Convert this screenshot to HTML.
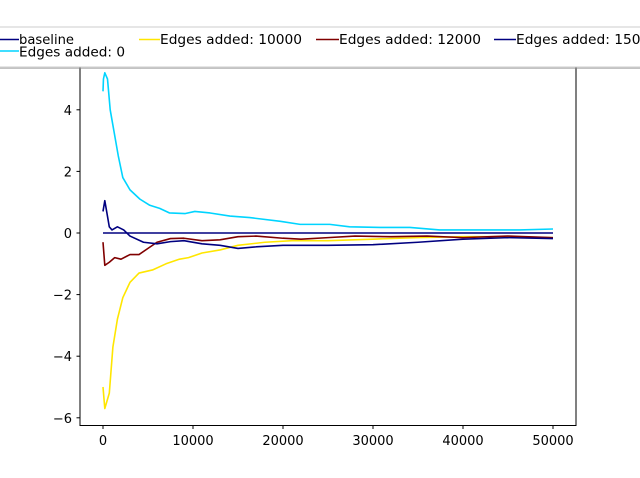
<!DOCTYPE html>
<html><head><meta charset="utf-8"><style>
body{margin:0;background:#fff;}
svg{display:block;font-family:"DejaVu Sans","Liberation Sans",sans-serif;}
</style></head><body>
<svg id="chart" width="640" height="478" viewBox="0 0 640 478" xmlns="http://www.w3.org/2000/svg">
<rect x="80" y="57.5" width="496" height="368" fill="#fff" stroke="#000" stroke-width="1"/>
<g id="ticks"></g>
<g id="lines"></g>
<g id="legend">
<rect x="-5" y="29" width="655" height="40" fill="#888" opacity="0.5"/>
<rect x="-5" y="27" width="655" height="40" fill="#fff" stroke="#ccc" stroke-width="1"/>
<line x1="0" y1="39.5" x2="19" y2="39.5" stroke="#000080" stroke-width="1.5"/>
<text x="19" y="44" font-size="13.5" textLength="55" lengthAdjust="spacingAndGlyphs">baseline</text>
<line x1="0" y1="51" x2="19" y2="51" stroke="#00d4ff" stroke-width="1.5"/>
<text x="19" y="56.5" font-size="13.5" textLength="106" lengthAdjust="spacingAndGlyphs">Edges added: 0</text>
<line x1="139" y1="39.5" x2="160" y2="39.5" stroke="#ffe600" stroke-width="1.5"/>
<text x="160" y="44" font-size="13.5" textLength="142" lengthAdjust="spacingAndGlyphs">Edges added: 10000</text>
<line x1="316" y1="39.5" x2="339" y2="39.5" stroke="#800000" stroke-width="1.5"/>
<text x="339" y="44" font-size="13.5" textLength="142" lengthAdjust="spacingAndGlyphs">Edges added: 12000</text>
<line x1="494" y1="39.5" x2="516" y2="39.5" stroke="#000080" stroke-width="1.5"/>
<text x="516" y="44" font-size="13.5" textLength="142" lengthAdjust="spacingAndGlyphs">Edges added: 15000</text>
</g>
</svg>
<script>
const xTicks=[0,10000,20000,30000,40000,50000];
const yTicks=[-6,-4,-2,0,2,4];
const baselineX=[0,50000];
const baselineY=[0,0];
const e0X=[0,50,200,500,800,1100,1700,2200,3000,4100,5200,6300,7400,9100,10200,11900,14100,16300,19700,21900,25200,27400,30800,34100,37400,41900,46300,50000];
const e0Y=[4.6,5.0,5.2,5.0,4.0,3.5,2.5,1.8,1.4,1.1,0.9,0.8,0.65,0.63,0.7,0.65,0.55,0.5,0.38,0.28,0.28,0.2,0.18,0.18,0.1,0.1,0.1,0.13];
const e10X=[0,200,700,1100,1600,2200,3000,4000,5500,7000,8500,9500,11000,13000,15000,18000,21000,25000,30000,35000,40000,45000,50000];
const e10Y=[-5.0,-5.7,-5.2,-3.7,-2.8,-2.1,-1.6,-1.3,-1.2,-1.0,-0.85,-0.8,-0.65,-0.55,-0.4,-0.3,-0.25,-0.25,-0.2,-0.15,-0.12,-0.12,-0.15];
const e12X=[0,200,700,1300,2000,3000,4000,5000,6000,7500,9000,11000,13000,15000,17000,20000,22000,25000,28000,32000,36000,40000,45000,50000];
const e12Y=[-0.3,-1.05,-0.95,-0.8,-0.85,-0.7,-0.7,-0.5,-0.3,-0.18,-0.17,-0.25,-0.22,-0.12,-0.1,-0.17,-0.2,-0.15,-0.1,-0.12,-0.1,-0.15,-0.1,-0.15];
const e15X=[0,200,700,1000,1600,2300,3000,4500,6000,7500,9000,11000,13000,15000,17000,20000,25000,30000,35000,40000,45000,50000];
const e15Y=[0.7,1.05,0.2,0.1,0.2,0.1,-0.1,-0.3,-0.35,-0.28,-0.25,-0.35,-0.4,-0.5,-0.45,-0.4,-0.4,-0.38,-0.3,-0.2,-0.15,-0.18];
const NS="http://www.w3.org/2000/svg";
const xS=v=>103+v*0.009;
const yS=v=>233-v*30.8;
const tg=document.getElementById('ticks');
xTicks.forEach(t=>{
 const l=document.createElementNS(NS,'line');
 l.setAttribute('x1',xS(t));l.setAttribute('x2',xS(t));l.setAttribute('y1',425.5);l.setAttribute('y2',429);l.setAttribute('stroke','#000');
 
 
 tg.appendChild(l);
 const tx=document.createElementNS(NS,'text');
 tx.setAttribute('x',xS(t));tx.setAttribute('y',445);tx.setAttribute('font-size','13');tx.setAttribute('text-anchor','middle');
 tx.textContent=t;
 
 
 tg.appendChild(tx);
});
yTicks.forEach(t=>{
 const l=document.createElementNS(NS,'line');
 l.setAttribute('x1',76.5);l.setAttribute('x2',80);l.setAttribute('y1',yS(t));l.setAttribute('y2',yS(t));l.setAttribute('stroke','#000');
 
 
 tg.appendChild(l);
 const tx=document.createElementNS(NS,'text');
 tx.setAttribute('x',72);tx.setAttribute('y',yS(t)+5);tx.setAttribute('font-size','13');tx.setAttribute('text-anchor','end');
 tx.textContent=t<0?'\u2212'+Math.abs(t):t;
 
 
 tg.appendChild(tx);
});
const lg=document.getElementById('lines');
function draw(xs,ys,color,name){
 const p=document.createElementNS(NS,'polyline');
 p.setAttribute('points',xs.map((x,i)=>xS(x)+','+yS(ys[i])).join(' '));
 p.setAttribute('fill','none');p.setAttribute('stroke',color);p.setAttribute('stroke-width','1.6');p.setAttribute('stroke-linejoin','round');
 
 
 lg.appendChild(p);
}
draw(baselineX,baselineY,'#000080','baseline-line');
draw(e0X,e0Y,'#00d4ff','edges-0-line');
draw(e10X,e10Y,'#ffe600','edges-10000-line');
draw(e12X,e12Y,'#800000','edges-12000-line');
draw(e15X,e15Y,'#000080','edges-15000-line');
</script>
</body></html>
